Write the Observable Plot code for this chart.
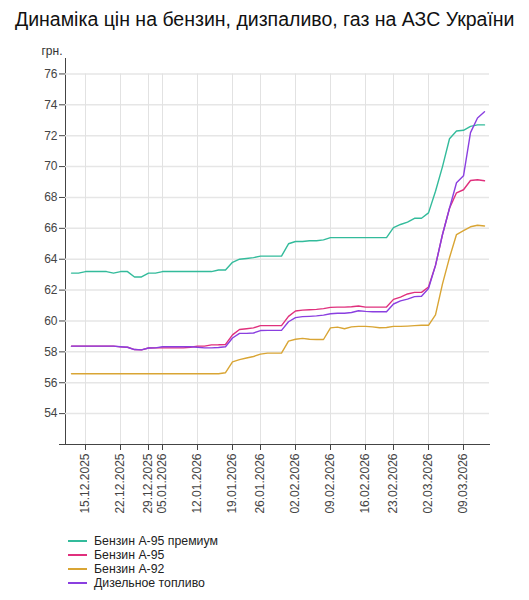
<!DOCTYPE html>
<html>
<head>
<meta charset="utf-8">
<script src="https://cdn.jsdelivr.net/npm/d3@7"></script>
<script src="https://cdn.jsdelivr.net/npm/@observablehq/plot@0.6"></script>
<style>
  body { margin: 0; background: #fff; font-family: "Liberation Sans", Arial, sans-serif; }
  #title { padding: 8px 0 0 15px; font-size: 19.5px; line-height: 23px; color: #111; white-space: nowrap; }
  #legend { margin: 15px 0 0 68px; font-size: 12.3px; color: #222; }
  #legend div { height: 14px; line-height: 14px; display: flex; align-items: center; }
  #legend span.sw { display: inline-block; width: 19px; height: 2px; margin-right: 7px; }
</style>
</head>
<body>
<div id="title">Динаміка цін на бензин, дизпаливо, газ на АЗС України</div>
<div id="chart"></div>
<div id="legend"></div>
<script>
// dates of observations (working days)
const dates = [
  "11.12.2025","12.12.2025","15.12.2025","16.12.2025","17.12.2025","18.12.2025","19.12.2025",
  "22.12.2025","23.12.2025","24.12.2025","25.12.2025","29.12.2025","30.12.2025",
  "05.01.2026","06.01.2026","07.01.2026","08.01.2026","09.01.2026",
  "12.01.2026","13.01.2026","14.01.2026","15.01.2026","16.01.2026",
  "19.01.2026","20.01.2026","21.01.2026","22.01.2026",
  "26.01.2026","27.01.2026","28.01.2026","29.01.2026","30.01.2026",
  "02.02.2026","03.02.2026","04.02.2026","05.02.2026","06.02.2026",
  "09.02.2026","10.02.2026","11.02.2026","12.02.2026","13.02.2026",
  "16.02.2026","17.02.2026","18.02.2026","19.02.2026",
  "23.02.2026","24.02.2026","25.02.2026","26.02.2026","27.02.2026",
  "02.03.2026","03.03.2026","04.03.2026","05.03.2026","06.03.2026",
  "09.03.2026","10.03.2026","11.03.2026","12.03.2026"
];

const tickDates = ["15.12.2025","22.12.2025","29.12.2025","05.01.2026","12.01.2026","19.01.2026",
  "26.01.2026","02.02.2026","09.02.2026","16.02.2026","23.02.2026","02.03.2026","09.03.2026"];

const yTicks = [54, 56, 58, 60, 62, 64, 66, 68, 70, 72, 74, 76];
const yDomain = [52, 77];

const seriesNames = ["Бензин А-95 премиум", "Бензин А-95", "Бензин А-92", "Дизельное топливо"];
const seriesColors = ["#33bb9b", "#e0307d", "#d9a534", "#8a3fe0"];

const premium = [
  63.1, 63.1, 63.2, 63.2, 63.2, 63.2, 63.1,
  63.2, 63.2, 62.85, 62.85, 63.1, 63.1,
  63.2, 63.2, 63.2, 63.2, 63.2,
  63.2, 63.2, 63.2, 63.3, 63.3,
  63.8, 64.0, 64.05, 64.1,
  64.2, 64.2, 64.2, 64.2, 65.0,
  65.15, 65.15, 65.2, 65.2, 65.25,
  65.4, 65.4, 65.4, 65.4, 65.4,
  65.4, 65.4, 65.4, 65.4,
  66.05, 66.25, 66.4, 66.65, 66.65,
  67.0, 68.4, 70.0, 71.8, 72.3,
  72.35, 72.6, 72.7, 72.7
];
const a95 = [
  58.37, 58.37, 58.37, 58.37, 58.37, 58.37, 58.37,
  58.32, 58.3, 58.15, 58.13, 58.25, 58.26,
  58.26, 58.26, 58.26, 58.26, 58.3,
  58.37, 58.37, 58.45, 58.46, 58.48,
  59.1, 59.45, 59.5, 59.55,
  59.7, 59.7, 59.7, 59.7, 60.3,
  60.65, 60.7, 60.73, 60.75, 60.8,
  60.88, 60.9, 60.9, 60.92, 60.97,
  60.9, 60.9, 60.9, 60.9,
  61.4, 61.55, 61.75, 61.85, 61.85,
  62.2, 63.6, 65.6, 67.3, 68.3,
  68.5, 69.1, 69.15, 69.08
];
const a92 = [
  56.58, 56.58, 56.58, 56.58, 56.58, 56.58, 56.58,
  56.58, 56.58, 56.58, 56.58, 56.58, 56.58,
  56.58, 56.58, 56.58, 56.58, 56.58,
  56.58, 56.58, 56.58, 56.58, 56.65,
  57.35, 57.5, 57.6, 57.7,
  57.85, 57.92, 57.92, 57.92, 58.7,
  58.82, 58.87, 58.82, 58.8, 58.8,
  59.55, 59.6, 59.5, 59.62, 59.65,
  59.65, 59.62, 59.56, 59.58,
  59.65, 59.65, 59.67, 59.7, 59.72,
  59.72, 60.4, 62.4, 64.1, 65.6,
  65.85, 66.1, 66.2, 66.15
];
const diesel = [
  58.37, 58.37, 58.37, 58.37, 58.37, 58.37, 58.37,
  58.33, 58.3, 58.15, 58.13, 58.25, 58.26,
  58.33, 58.33, 58.33, 58.33, 58.33,
  58.3, 58.26, 58.26, 58.28, 58.33,
  58.9, 59.2, 59.2, 59.22,
  59.38, 59.39, 59.39, 59.39, 59.95,
  60.22, 60.28, 60.3, 60.33, 60.38,
  60.47, 60.5, 60.5, 60.55, 60.66,
  60.62, 60.6, 60.6, 60.6,
  61.1, 61.3, 61.42, 61.58, 61.6,
  62.1, 63.6, 65.6, 67.3, 68.95,
  69.4, 72.2, 73.15, 73.55
];

const allSeries = [premium, a95, a92, diesel];
const rows = seriesNames.flatMap((name, k) =>
  dates.map((d, i) => ({date: d, value: allSeries[k][i], series: name})));

const chart = Plot.plot({
  width: 529,
  height: 488,
  marginTop: 27,
  marginLeft: 65,
  marginRight: 40,
  marginBottom: 75,
  style: {fontFamily: "'Liberation Sans', Arial, sans-serif", fontSize: "12px", color: "#444", background: "#fff"},
  x: {
    type: "point",
    domain: dates,
    padding: 0.4,
    ticks: tickDates,
    tickRotate: -90,
    tickSize: 6,
    tickPadding: 3,
    line: true,
    label: null
  },
  y: {
    domain: yDomain,
    ticks: yTicks,
    tickSize: 6,
    tickPadding: 2,
    line: true,
    label: null
  },
  color: {domain: seriesNames, range: seriesColors},
  marks: [
    Plot.ruleY(yTicks, {stroke: "#e6e6e6", strokeWidth: 1.5}),
    Plot.ruleX(tickDates, {y1: yDomain[0], y2: yTicks[yTicks.length - 1], stroke: "#e2e2e2"}),
    Plot.ruleY([yDomain[0]], {stroke: "#444", insetLeft: -6}),
    Plot.lineY(rows, {x: "date", y: "value", stroke: "series", strokeWidth: 1.4}),
    Plot.text(["грн."], {frameAnchor: "top-left", dx: -3, dy: -4, textAnchor: "end", lineAnchor: "bottom", fill: "#333"})
  ]
});

document.getElementById("chart").append(chart);

const legend = d3.select("#legend");
seriesNames.forEach((name, k) => {
  const row = legend.append("div");
  row.append("span").attr("class", "sw").style("background", seriesColors[k]);
  row.append("span").text(name);
});
</script>
</body>
</html>
